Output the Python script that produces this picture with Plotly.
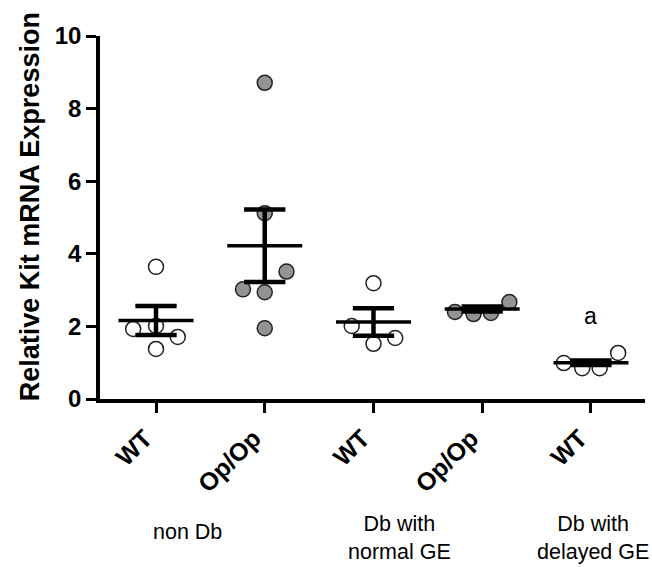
import plotly.graph_objects as go

# ---- data ----
tick_labels = ["WT", "Op/Op", "WT", "Op/Op", "WT"]
wt_non_db = [3.64, 1.93, 2.01, 1.71, 1.38]
op_non_db = [8.71, 5.12, 3.51, 3.02, 2.94, 1.95]
wt_db_normal = [3.19, 2.01, 1.52, 1.68]
op_db_normal = [2.40, 2.34, 2.37, 2.67]
wt_db_delayed = [0.99, 0.85, 0.85, 1.27]
group_means = [2.16, 4.22, 2.12, 2.48, 1.00]
group_sems = [0.40, 1.00, 0.38, 0.07, 0.06]
group_labels = ["non Db", "Db with<br>normal GE", "Db with<br>delayed GE"]
sig_label = "a"
y_title = "Relative Kit mRNA Expression"

groups = [wt_non_db, op_non_db, wt_db_normal, op_db_normal, wt_db_delayed]
# horizontal jitter of the individual points (layout only)
jitter = [
    [0, -0.21, 0, 0.2, 0],
    [0, 0, 0.2, -0.2, 0, 0],
    [0, -0.2, 0, 0.2],
    [-0.25, -0.08, 0.08, 0.25],
    [-0.25, -0.08, 0.08, 0.25],
]
fills = ["white", "#939393", "white", "#939393", "white"]

FONT = "Arial, Liberation Sans, sans-serif"
fig = go.Figure()

for i, vals in enumerate(groups):
    fig.add_trace(go.Scatter(
        x=[i + j for j in jitter[i]], y=vals, mode="markers",
        marker=dict(size=15, color=fills[i], line=dict(color="#222222", width=1.5)),
        showlegend=False, hoverinfo="y"))

# mean lines
mx, my = [], []
for i, m in enumerate(group_means):
    mx += [i - 0.345, i + 0.345, None]
    my += [m, m, None]
fig.add_trace(go.Scatter(x=mx, y=my, mode="lines",
                         line=dict(color="black", width=3.5), showlegend=False, hoverinfo="skip"))

# SEM bars with caps
ex, ey = [], []
for i, (m, s) in enumerate(zip(group_means, group_sems)):
    ex += [i, i, None, i - 0.19, i + 0.19, None, i - 0.19, i + 0.19, None]
    ey += [m - s, m + s, None, m + s, m + s, None, m - s, m - s, None]
fig.add_trace(go.Scatter(x=ex, y=ey, mode="lines",
                         line=dict(color="black", width=4.5), showlegend=False, hoverinfo="skip"))

# significance letter
fig.add_annotation(x=4, y=2.3, xref="x", yref="y", text=sig_label, showarrow=False,
                   font=dict(family=FONT, size=23, color="black"))

# group labels under the axis
for xpos, ypos, lab in zip([0.29, 2.24, 4.02], [-0.366, -0.384, -0.384], group_labels):
    fig.add_annotation(x=xpos, y=ypos, xref="x", yref="paper", text=lab, showarrow=False,
                       xanchor="center", yanchor="middle",
                       font=dict(family=FONT, size=21.5, color="black"), align="center")

# y-axis title
fig.add_annotation(x=-0.128, y=0.529, xref="paper", yref="paper", text=f"<b>{y_title}</b>",
                   textangle=-90, showarrow=False, xanchor="center", yanchor="middle",
                   font=dict(family=FONT, size=27, color="black"))

fig.update_layout(
    width=652, height=567,
    margin=dict(l=100, r=7, t=36, b=168),
    plot_bgcolor="white", paper_bgcolor="white",
    font=dict(family=FONT, color="black"),
    xaxis=dict(range=[-0.515, 4.497], tickmode="array", tickvals=list(range(5)),
               ticktext=[f"<b>{t}</b>" for t in tick_labels], tickangle=-45,
               tickfont=dict(family=FONT, size=25, color="black"),
               ticklabelshift=-11, ticklabelstandoff=1,
               showline=True, linecolor="black", linewidth=3.5,
               ticks="outside", ticklen=10, tickwidth=3, tickcolor="black",
               showgrid=False, zeroline=False),
    yaxis=dict(range=[0, 10], tickmode="array", tickvals=[0, 2, 4, 6, 8, 10],
               ticktext=[f"<b>{v}</b>" for v in [0, 2, 4, 6, 8, 10]],
               tickfont=dict(family=FONT, size=24, color="black"),
               showline=True, linecolor="black", linewidth=3.5,
               ticks="outside", ticklen=10, tickwidth=3, tickcolor="black",
               showgrid=False, zeroline=False),
)

fig.write_html("out.html", post_script="document.body.style.margin='0';",
               config={"displayModeBar": False})
